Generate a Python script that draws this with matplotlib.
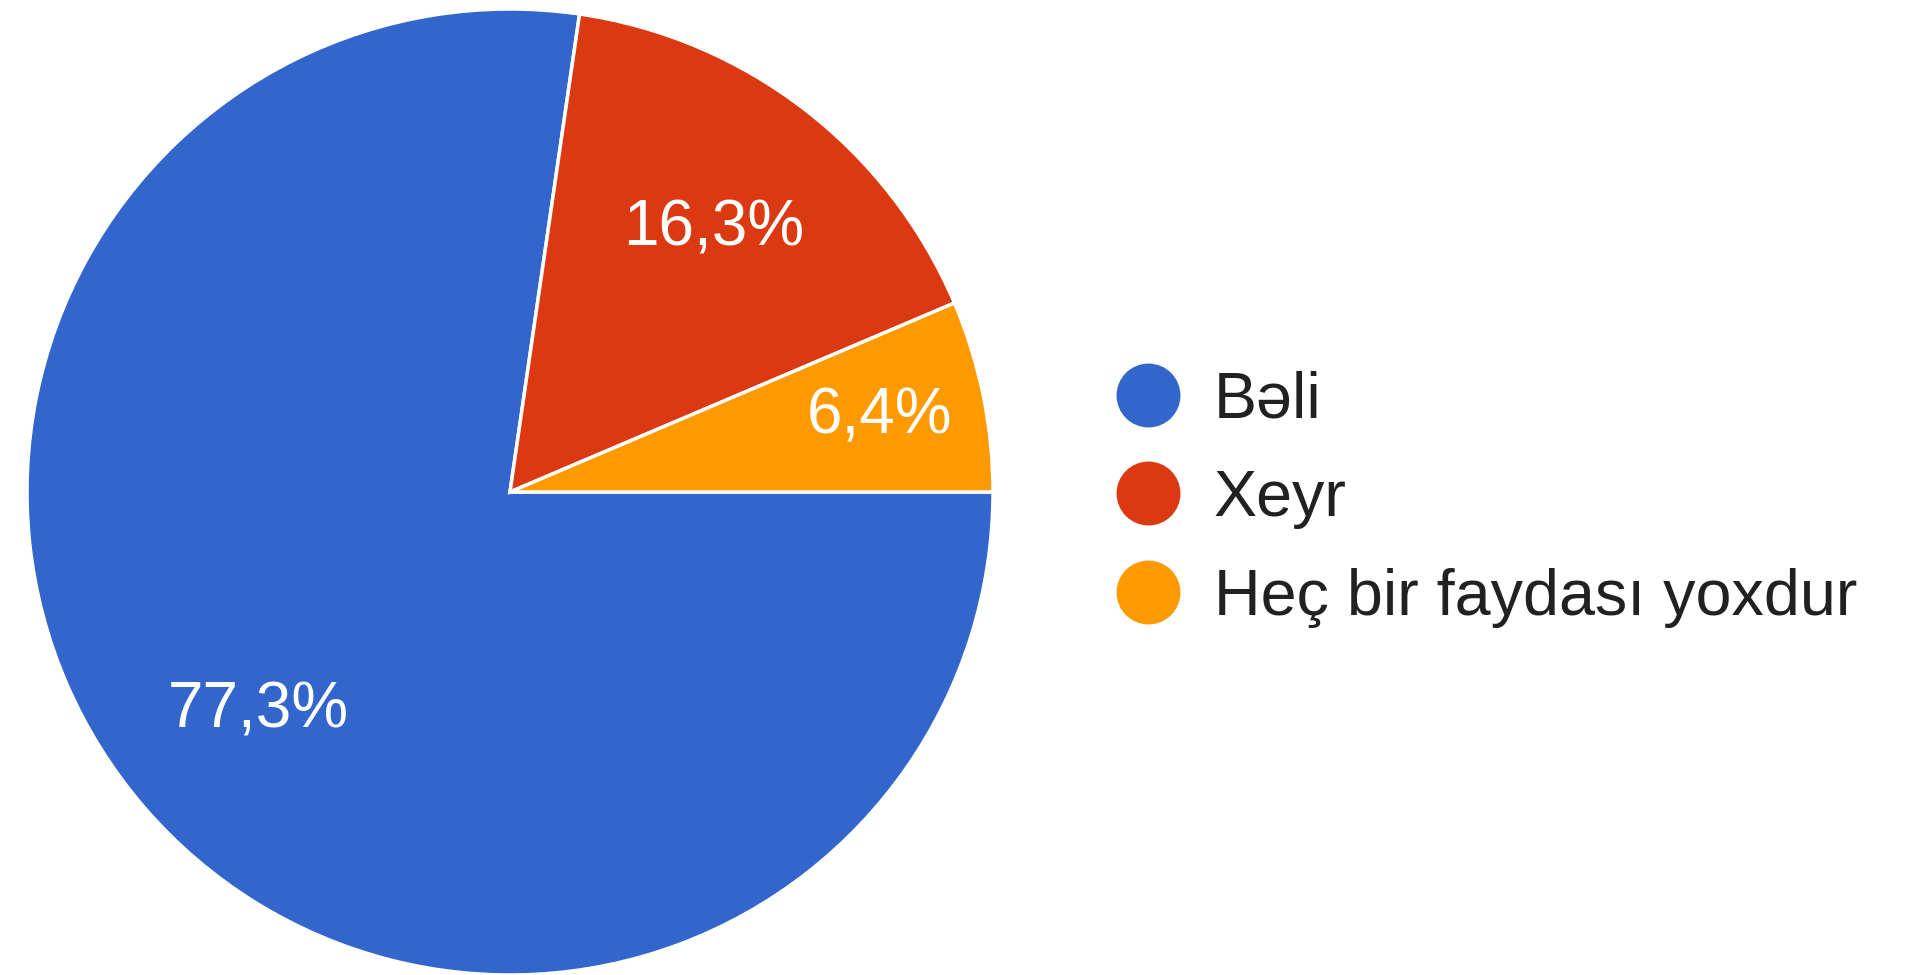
import matplotlib
matplotlib.use('Agg')
import matplotlib.pyplot as plt
from matplotlib.lines import Line2D
import numpy as np

plt.rcParams['font.family'] = ['Liberation Sans', 'DejaVu Sans']

labels = ['Bəli', 'Xeyr', 'Heç bir faydası yoxdur']
values = [77.3, 16.3, 6.4]
colors = ['#3366CC', '#DC3912', '#FF9900']
pct_text = ['77,3%', '16,3%', '6,4%']

fig = plt.figure(figsize=(19.06, 9.75), dpi=100)
ax = fig.add_axes([27 / 1906, 0, 966 / 1906, 966 / 975])

wedges, texts = ax.pie(values, colors=colors, startangle=0, counterclock=False,
                       radius=1, wedgeprops=dict(edgecolor='white', linewidth=2.5))

# percent labels at the wedge middle, small slice pushed out a bit
for w, t, v in zip(wedges, pct_text, values):
    mid = np.deg2rad((w.theta1 + w.theta2) / 2)
    r = 0.69 if v > 10 else 0.78
    ax.text(r * np.cos(mid), r * np.sin(mid), t, ha='center', va='center',
            color='white', fontsize=46)

ax.set_xlim(-1, 1)
ax.set_ylim(-1, 1)
ax.set_aspect('equal')
ax.axis('off')

handles = [Line2D([], [], marker='o', linestyle='none', markersize=45,
                  markerfacecolor=c, markeredgecolor=c) for c in colors]
fig.legend(handles, labels, loc='center left', bbox_to_anchor=(1051 / 1906, 476 / 975),
           frameon=False, fontsize=46.5, labelcolor='#212121', handletextpad=0.42,
           labelspacing=0.6, handlelength=1.2)

fig.savefig('out.png', dpi=100, facecolor='white')
